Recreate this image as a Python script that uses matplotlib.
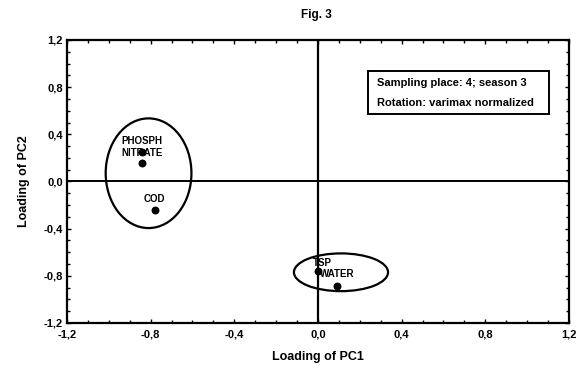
import matplotlib.pyplot as plt
from matplotlib.patches import Ellipse, Rectangle

# loadings
labels = ['PHOSPH', 'NITRATE', 'COD', 'TSP', 'WATER']
pc1 = [-0.84, -0.84, -0.78, 0.00, 0.09]
pc2 = [0.25, 0.16, -0.24, -0.76, -0.89]

# groups circled in the figure: centre x, centre y, width, height
groups_x = [-0.81, 0.11]
groups_y = [0.07, -0.77]
groups_w = [0.41, 0.45]
groups_h = [0.93, 0.32]

ticks = [-1.2, -0.8, -0.4, 0.0, 0.4, 0.8, 1.2]
tick_labels = ['-1,2', '-0,8', '-0,4', '0,0', '0,4', '0,8', '1,2']

note_lines = ['Sampling place: 4; season 3', 'Rotation: varimax normalized']

plt.rcParams['font.family'] = ['Liberation Sans', 'DejaVu Sans']
plt.rcParams['font.weight'] = 'bold'


def main():
    fig = plt.figure(figsize=(5.81, 3.69), dpi=100)
    ax = fig.add_axes([0.1153, 0.1247, 0.864, 0.767])
    ax.set_xlim(-1.2, 1.2)
    ax.set_ylim(-1.2, 1.2)

    ax.axhline(0, color='black', lw=1.4)
    ax.axvline(0, color='black', lw=1.6)

    for cx, cy, w, h in zip(groups_x, groups_y, groups_w, groups_h):
        ax.add_patch(Ellipse((cx, cy), w, h, fill=False, ec='black', lw=1.6))

    ax.scatter(pc1, pc2, s=22, color='black', zorder=3)
    offsets = {'PHOSPH': (0.0, 0.05), 'NITRATE': (0.0, 0.035), 'COD': (0.0, 0.05),
               'TSP': (0.02, 0.03), 'WATER': (0.0, 0.06)}
    for lab, x, y in zip(labels, pc1, pc2):
        dx, dy = offsets[lab]
        ax.text(x + dx, y + dy, lab, fontsize=7, ha='center', va='bottom',
                fontweight='bold', zorder=4)

    ax.set_xticks(ticks)
    ax.set_xticklabels(tick_labels)
    ax.set_yticks(ticks)
    ax.set_yticklabels(tick_labels)
    ax.minorticks_on()
    ax.tick_params(which='both', direction='in', top=True, right=True, labelsize=8, width=1)
    ax.tick_params(which='major', length=3)
    ax.tick_params(which='minor', length=2)
    ax.tick_params(axis='x', which='major', pad=5)
    ax.tick_params(axis='y', which='major', pad=3)
    for sp in ax.spines.values():
        sp.set_linewidth(1.6)

    ax.set_xlabel('Loading of PC1', fontsize=9, fontweight='bold', labelpad=8)
    ax.set_ylabel('Loading of PC2', fontsize=9, fontweight='bold', labelpad=10)
    fig.text(0.545, 0.958, 'Fig. 3', fontsize=8.5, fontweight='bold', ha='center', va='center')

    # note box
    ax.add_patch(Rectangle((0.24, 0.57), 0.865, 0.365, fill=True, fc='white', ec='black',
                           lw=1.4, zorder=4))
    ax.text(0.282, 0.835, note_lines[0], fontsize=8, fontweight='bold', va='center', zorder=5)
    ax.text(0.282, 0.665, note_lines[1], fontsize=8, fontweight='bold', va='center', zorder=5)

    fig.savefig('out.png', dpi=100)


if __name__ == "__main__":
    main()
